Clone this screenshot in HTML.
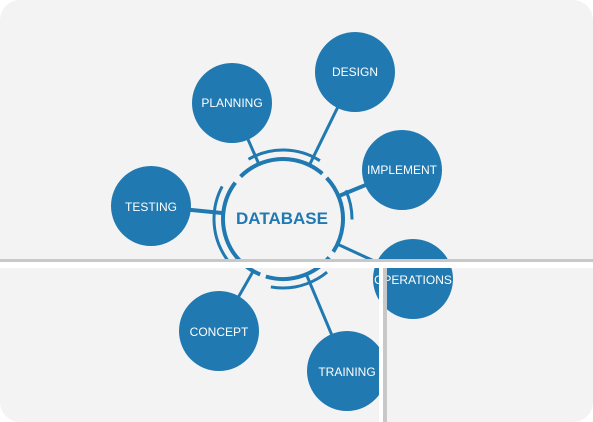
<!DOCTYPE html>
<html><head><meta charset="utf-8"><style>
html,body{margin:0;padding:0;background:#fff;}
body{width:593px;height:422px;position:relative;overflow:hidden;font-family:"Liberation Sans",sans-serif;}
.p{position:absolute;background:#f3f3f3;}
svg{position:absolute;left:0;top:0;}
</style></head><body>
<div class="p" style="left:0;top:0;width:593px;height:268px;border-radius:20px 20px 0 0;"></div>
<div class="p" style="left:0;top:268px;width:593px;height:154px;border-radius:0 0 20px 20px;"></div>
<svg width="593" height="422" viewBox="0 0 593 422">
<g stroke="#2079b0" fill="none">
<line x1="283" y1="219" x2="355" y2="72" stroke-width="3"/>
<line x1="283" y1="219" x2="232" y2="103" stroke-width="3"/>
<line x1="283" y1="219" x2="402" y2="170" stroke-width="4"/>
<line x1="283" y1="219" x2="151" y2="206" stroke-width="4"/>
<line x1="283" y1="219" x2="413" y2="279" stroke-width="3"/>
<line x1="283" y1="219" x2="219" y2="331" stroke-width="3"/>
<line x1="283" y1="219" x2="347" y2="371" stroke-width="3"/>
</g>
<circle cx="283" cy="219" r="60" fill="#f3f3f3"/>
<g stroke="#2079b0" fill="none">
<circle cx="283" cy="219" r="60" stroke-width="4" stroke-dasharray="60 8 90 6 80 7 70 6" transform="rotate(-200 283 219)"/>
<circle cx="283" cy="219" r="69" stroke-width="3" stroke-dasharray="75 40 30 60 60 50 80 200" transform="rotate(-120 283 219)"/>
</g>
<g fill="#2079b0">
<circle cx="355" cy="72" r="40"/>
<circle cx="232" cy="103" r="40"/>
<circle cx="402" cy="170" r="40"/>
<circle cx="151" cy="206" r="40"/>
<circle cx="413" cy="279" r="40"/>
<circle cx="219" cy="331" r="40"/>
<circle cx="347" cy="371" r="40"/>
</g>
<g fill="#fff" font-family="Liberation Sans, sans-serif" font-size="12" text-anchor="middle">
<text x="355" y="76">DESIGN</text>
<text x="232" y="107">PLANNING</text>
<text x="402" y="174">IMPLEMENT</text>
<text x="151" y="211">TESTING</text>
<text x="413" y="284">OPERATIONS</text>
<text x="219" y="336">CONCEPT</text>
<text x="347" y="376">TRAINING</text>
</g>
<text x="282" y="224" fill="#2079b0" font-size="17" font-weight="bold" text-anchor="middle" font-family="Liberation Sans, sans-serif">DATABASE</text>
<!-- gaps -->
<rect x="0" y="259" width="593" height="3" fill="#c8c8c8"/>
<rect x="0" y="262" width="593" height="6" fill="#ffffff"/>
<rect x="379" y="268" width="4" height="154" fill="#ffffff"/>
<rect x="383" y="268" width="4" height="154" fill="#c8c8c8"/>
</svg>
</body></html>
